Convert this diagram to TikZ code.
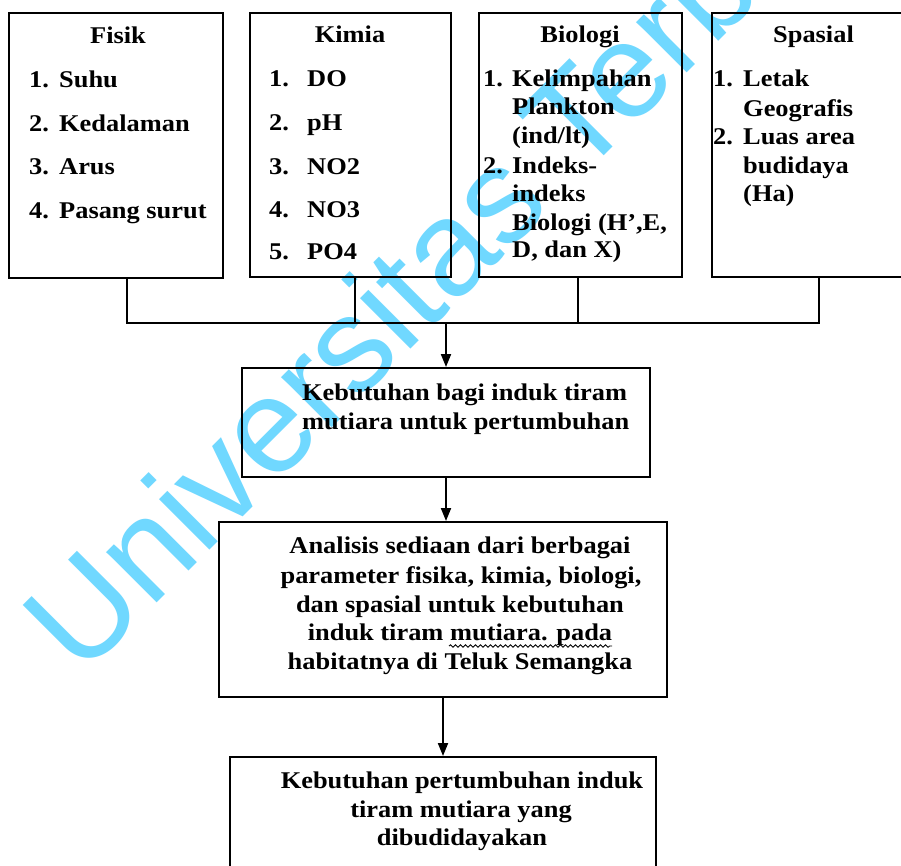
\documentclass[tikz,border=0pt]{standalone}
\usepackage{fontspec}
\setmainfont[FakeStretch=1.1]{Liberation Serif}
\newfontfamily\wmfont{Liberation Sans}
\usetikzlibrary{arrows.meta,decorations.pathmorphing}
\definecolor{wmcol}{RGB}{112,216,255}
\newcommand\numbox[2]{\makebox[#1][l]{#2}}
\begin{document}
\begin{tikzpicture}[x=1pt,y=-1pt,
  box/.style={draw, line width=2pt, inner sep=0pt},
  txt/.style={inner sep=0pt, anchor=base west, font=\fontsize{24}{29}\selectfont\bfseries},
  ctxt/.style={txt, anchor=base},
  link/.style={line width=2pt},
  arr/.style={line width=2pt, -{Triangle[length=13pt,width=10pt]}},
  wm/.style={inner sep=0pt, anchor=base west, rotate=45, text=wmcol, font=\wmfont\fontsize{135}{135}\selectfont}]
\useasboundingbox (0,0) rectangle (901,866);
\clip (0,0) rectangle (901,866);
\fill[white] (0,0) rectangle (901,866);
% watermark
\node[wm] (wmark) at (81,679) {Universitas Terbuka};
% top boxes
\node[box, minimum width=214pt, minimum height=265pt] (fisik) at (116,145.5) {};
\node[box, minimum width=201pt, minimum height=264pt] (kimia) at (350.5,145) {};
\node[box, minimum width=203pt, minimum height=264pt] (biologi) at (580.5,145) {};
\node[box, minimum width=203pt, minimum height=264pt] (spasial) at (813.5,145) {};
% lower boxes
\node[box, minimum width=408pt, minimum height=109pt] (box2) at (446,422.5) {};
\node[box, minimum width=448pt, minimum height=175pt] (box3) at (443,609.5) {};
\node[box, minimum width=426pt, minimum height=123pt] (box4) at (443,818.5) {};
% connectors
\coordinate (b1) at (127,323);
\coordinate (b2) at (355,323);
\coordinate (b3) at (578,323);
\coordinate (b4) at (819,323);
\coordinate (bm) at (446,323);
\draw[link] (fisik.south -| b1) -- (b1) -- (b4) -- (spasial.south -| b4);
\draw[link] (kimia.south -| b2) -- (b2);
\draw[link] (biologi.south -| b3) -- (b3);
\draw[arr] (bm) -- (box2.north -| bm);
\draw[arr] (box2.south) -- (box2.south |- box3.north);
\draw[arr] (box3.south) -- (box4.north);
% Fisik
\node[ctxt] (fh) at (118,44) {Fisik};
\node[txt] (f1) at (29,88) {\numbox{30pt}{1.}Suhu};
\node[txt] (f2) at (29,131.5) {\numbox{30pt}{2.}Kedalaman};
\node[txt] (f3) at (29,175) {\numbox{30pt}{3.}Arus};
\node[txt] (f4) at (29,218.5) {\numbox{30pt}{4.}Pasang surut};
% Kimia
\node[ctxt] (kh) at (350,43) {Kimia};
\node[txt] (k1) at (269,87) {\numbox{38pt}{1.}DO};
\node[txt] (k2) at (269,131) {\numbox{38pt}{2.}pH};
\node[txt] (k3) at (269,175) {\numbox{38pt}{3.}NO2};
\node[txt] (k4) at (269,218) {\numbox{38pt}{4.}NO3};
\node[txt] (k5) at (269,260) {\numbox{38pt}{5.}PO4};
% Biologi
\node[ctxt] (bh) at (580,43) {Biologi};
\node[txt] (bi1) at (483,87) {\numbox{29pt}{1.}Kelimpahan};
\node[txt] (bi2) at (512,115) {Plankton};
\node[txt] (bi3) at (512,144) {(ind/lt)};
\node[txt] (bi4) at (483,174) {\numbox{29pt}{2.}Indeks-};
\node[txt] (bi5) at (512,202) {indeks};
\node[txt] (bi6) at (512,231) {Biologi (H',E,};
\node[txt] (bi7) at (512,258) {D, dan X)};
% Spasial
\node[ctxt] (sh) at (813.5,43) {Spasial};
\node[txt] (s1) at (713,87) {\numbox{30pt}{1.}Letak};
\node[txt] (s2) at (743,117) {Geografis};
\node[txt] (s3) at (713,145) {\numbox{30pt}{2.}Luas area};
\node[txt] (s4) at (743,174) {budidaya};
\node[txt] (s5) at (743,202) {(Ha)};
% box2 text
\node[txt] (t21) at (302,400) {Kebutuhan bagi induk tiram};
\node[txt] (t22) at (302,429) {mutiara untuk pertumbuhan};
% box3 text
\node[ctxt] (t31) at (460,553) {Analisis sediaan dari berbagai};
\node[ctxt] (t32) at (461,583) {parameter fisika, kimia, biologi,};
\node[ctxt] (t33) at (460,612) {dan spasial untuk kebutuhan};
\node[ctxt] (t34) at (460,640) {induk tiram mutiara. pada};
\node[ctxt] (t35) at (460,669) {habitatnya di Teluk Semangka};
\draw[decorate, decoration={snake, amplitude=1.2pt, segment length=5pt}, line width=0.9pt] (449,646) -- (612,646);
% box4 text
\node[ctxt] (t41) at (462,788) {Kebutuhan pertumbuhan induk};
\node[ctxt] (t42) at (461,817) {tiram mutiara yang};
\node[ctxt] (t43) at (462,845) {dibudidayakan};
\end{tikzpicture}
\end{document}
